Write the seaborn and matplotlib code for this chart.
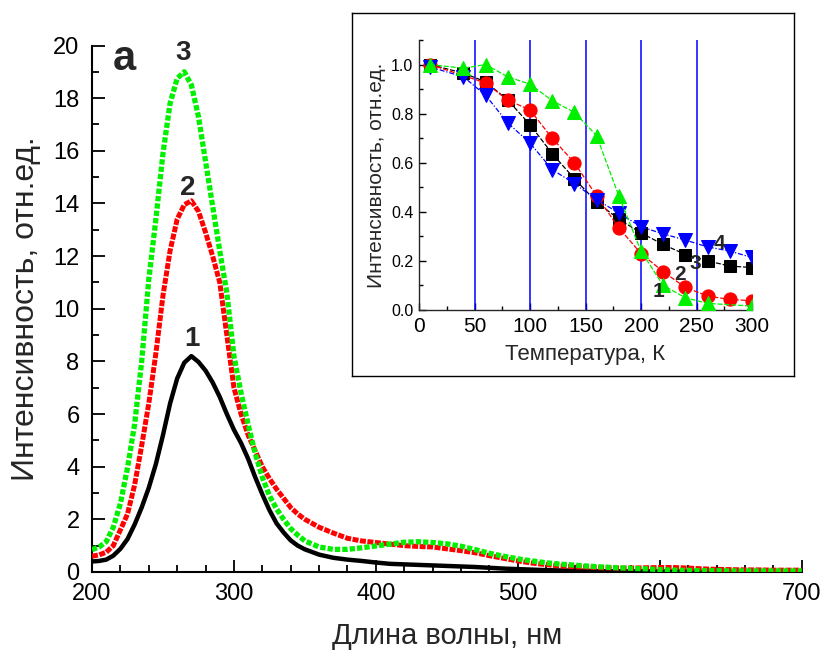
import numpy as np
import pandas as pd
import matplotlib
matplotlib.use("Agg")
import matplotlib.pyplot as plt
from matplotlib.ticker import MultipleLocator
import seaborn as sns

# ---------------- main spectra data ----------------
wavelength = [200, 205, 210, 215, 220, 225, 230, 235, 240, 245, 250, 255, 260, 265,
              270, 275, 280, 285, 290, 295, 300, 305, 310, 315, 320, 325, 330, 335,
              340, 345, 350, 360, 370, 380, 390, 400, 410, 420, 430, 440, 450, 460,
              470, 480, 490, 500, 510, 520, 530, 540, 550, 560, 570, 580, 590, 600,
              610, 620, 630, 640, 650, 660, 670, 680, 690, 700]
curve1 = [0.40, 0.42, 0.47, 0.62, 0.88, 1.25, 1.80, 2.45, 3.20, 4.10, 5.20, 6.40, 7.35, 7.95,
          8.20, 7.98, 7.65, 7.20, 6.65, 6.00, 5.40, 4.90, 4.30, 3.60, 2.95, 2.35, 1.85, 1.50,
          1.20, 1.00, 0.86, 0.66, 0.54, 0.47, 0.42, 0.36, 0.31, 0.29, 0.27, 0.25, 0.23, 0.21,
          0.19, 0.16, 0.13, 0.11, 0.09, 0.07, 0.06, 0.05, 0.04, 0.03, 0.03, 0.02, 0.03, 0.02,
          0.02, 0.02, 0.01, 0.01, 0.01, 0.01, 0.01, 0.00, 0.00, 0.00]
curve2 = [0.60, 0.65, 0.75, 1.00, 1.60, 2.20, 3.30, 4.80, 6.40, 8.30, 10.5, 12.2, 13.4, 13.95,
          14.1, 13.7, 12.9, 12.0, 11.0, 9.00, 7.00, 6.00, 5.20, 4.60, 4.00, 3.55, 3.15, 2.80,
          2.45, 2.20, 2.00, 1.70, 1.48, 1.28, 1.18, 1.12, 1.06, 1.00, 0.97, 0.95, 0.88, 0.81,
          0.73, 0.62, 0.52, 0.42, 0.34, 0.28, 0.23, 0.20, 0.18, 0.16, 0.15, 0.15, 0.16, 0.17,
          0.17, 0.15, 0.12, 0.10, 0.09, 0.08, 0.08, 0.07, 0.07, 0.07]
curve3 = [0.85, 0.95, 1.15, 1.70, 2.60, 3.95, 5.60, 8.00, 11.1, 13.4, 15.9, 17.8, 18.75, 19.0,
          18.5, 17.3, 15.6, 13.9, 12.2, 10.6, 8.20, 6.80, 5.60, 4.50, 3.60, 2.90, 2.40, 2.00,
          1.65, 1.40, 1.18, 0.95, 0.86, 0.86, 0.92, 0.99, 1.06, 1.13, 1.15, 1.12, 1.07, 0.98,
          0.85, 0.71, 0.60, 0.50, 0.42, 0.35, 0.30, 0.26, 0.22, 0.19, 0.16, 0.14, 0.12, 0.09,
          0.07, 0.06, 0.05, 0.05, 0.04, 0.04, 0.04, 0.04, 0.04, 0.04]

# ---------------- inset data ----------------
t1 = [10, 40, 60, 80, 100, 120, 140, 160, 180, 200, 220, 240, 260, 300]
i1 = [1.00, 0.985, 1.00, 0.95, 0.92, 0.853, 0.805, 0.71, 0.465, 0.24, 0.10, 0.05, 0.027, 0.016]
t2 = [10, 60, 80, 100, 120, 140, 160, 180, 200, 220, 240, 260, 280, 300]
i2 = [1.00, 0.925, 0.855, 0.815, 0.70, 0.60, 0.465, 0.335, 0.23, 0.156, 0.092, 0.057, 0.043, 0.038]
t3 = [10, 40, 60, 80, 100, 120, 140, 160, 180, 200, 220, 240, 260, 280, 300]
i3 = [1.00, 0.965, 0.93, 0.855, 0.755, 0.637, 0.535, 0.44, 0.37, 0.314, 0.267, 0.226, 0.20, 0.179, 0.173]
t4 = [10, 40, 60, 80, 100, 120, 140, 160, 180, 200, 220, 240, 260, 280, 300]
i4 = [0.99, 0.95, 0.875, 0.762, 0.68, 0.572, 0.515, 0.45, 0.395, 0.339, 0.31, 0.285, 0.257, 0.24, 0.214]
vlines_T = [50, 100, 150, 200, 250]

GREEN = '#00f000'

sns.set_style("ticks")
plt.rcParams['font.family'] = ['Liberation Sans', 'DejaVu Sans']

fig = plt.figure(figsize=(8.25, 6.57), dpi=100)
ax = fig.add_axes([92/825, 1-572/657, (801.7-92)/825, (572-45.5)/657])

df = pd.DataFrame({"wl": wavelength, "c1": curve1, "c2": curve2, "c3": curve3})
sns.lineplot(data=df, x="wl", y="c1", ax=ax, color="black", lw=3.2, zorder=3)
sns.lineplot(data=df, x="wl", y="c2", ax=ax, color="#ff0000", lw=3.6, zorder=4)
sns.lineplot(data=df, x="wl", y="c3", ax=ax, color=GREEN, lw=3.8, zorder=5)
lines = ax.get_lines()
lines[1].set_dashes((1.2, 0.3))
lines[1].set_dash_capstyle("butt")
lines[2].set_dashes((1.0, 0.4))
lines[2].set_dash_capstyle("butt")

ax.set_xlim(200, 700)
ax.set_ylim(0, 20)
ax.xaxis.set_major_locator(MultipleLocator(100))
ax.xaxis.set_minor_locator(MultipleLocator(20))
ax.yaxis.set_major_locator(MultipleLocator(2))
ax.yaxis.set_minor_locator(MultipleLocator(1))
ax.tick_params(which='both', direction='in', width=1.3, colors='black', labelsize=17)
ax.tick_params(which='major', length=9)
ax.tick_params(which='minor', length=5)
ax.tick_params(axis='y', pad=9)
ax.tick_params(axis='x', pad=8)
for s in ['top', 'right']:
    ax.spines[s].set_visible(False)
for s in ['left', 'bottom']:
    ax.spines[s].set_linewidth(1.5)
    ax.spines[s].set_color('black')
ax.set_xlabel("Длина волны, нм", fontsize=21, labelpad=12)
ax.set_ylabel("Интенсивность, отн.ед.", fontsize=23, labelpad=9)

ax.text(222.5, 19.5, "a", fontsize=30, fontweight='bold', ha='center', va='center')
ax.text(264.5, 19.7, "3", fontsize=20, fontweight='bold', ha='center', va='center')
ax.text(267.8, 14.6, "2", fontsize=20, fontweight='bold', ha='center', va='center')
ax.text(270.5, 8.85, "1", fontsize=20, fontweight='bold', ha='center', va='center')

# ---------------- inset frame ----------------
frame = fig.add_axes([351.5/825, 1-375.5/657, (793.5-351.5)/825, (375.5-12.5)/657])
frame.set_xticks([])
frame.set_yticks([])
for s in frame.spines.values():
    s.set_linewidth(1.0)
    s.set_color('black')
frame.set_zorder(2)

axi = fig.add_axes([419/825, 1-310/657, (752-419)/825, (310-40)/657])
axi.set_zorder(3)
axi.set_facecolor('none')
for T in vlines_T:
    axi.axvline(T, color='#0000ff', lw=1.1, zorder=1)

dfi3 = pd.DataFrame({"T": t3, "I": i3})
dfi2 = pd.DataFrame({"T": t2, "I": i2})
dfi4 = pd.DataFrame({"T": t4, "I": i4})
dfi1 = pd.DataFrame({"T": t1, "I": i1})
ms = 9.5
sns.lineplot(data=dfi3, x="T", y="I", ax=axi, color='black', lw=0.9, ls=(0, (4, 1.5)),
             marker='s', markersize=ms - 1.5, markeredgecolor='black', zorder=3)
sns.lineplot(data=dfi2, x="T", y="I", ax=axi, color='#ff0000', lw=0.9, ls=(0, (4, 1.5)),
             marker='o', markersize=ms, markeredgecolor='#ff0000', zorder=4)
sns.lineplot(data=dfi4, x="T", y="I", ax=axi, color='#0000ff', lw=0.9, ls=(0, (4, 1.5, 1, 1.5)),
             marker='v', markersize=ms, markeredgecolor='#0000ff', zorder=5)
sns.lineplot(data=dfi1, x="T", y="I", ax=axi, color=GREEN, lw=0.9, ls=(0, (4, 1.5)),
             marker='^', markersize=ms, markeredgecolor=GREEN, zorder=6)

axi.set_xlim(0, 300)
axi.set_ylim(0, 1.1)
axi.xaxis.set_major_locator(MultipleLocator(50))
axi.xaxis.set_minor_locator(MultipleLocator(25))
axi.set_yticks([0.0, 0.2, 0.4, 0.6, 0.8, 1.0])
axi.set_yticklabels(["0.0", "0.2", "0.4", "0.6", "0.8", "1.0"])
axi.yaxis.set_minor_locator(MultipleLocator(0.1))
axi.tick_params(which='both', direction='in', width=1.0, colors='black')
axi.tick_params(axis='x', labelsize=15, pad=5)
axi.tick_params(axis='y', labelsize=11.5, pad=4)
axi.tick_params(which='major', length=5)
axi.tick_params(which='minor', length=3)
for s in ['top', 'right']:
    axi.spines[s].set_visible(False)
for s in ['left', 'bottom']:
    axi.spines[s].set_linewidth(1.0)
axi.set_xlabel("Температура, К", fontsize=16, labelpad=6)
axi.set_ylabel("Интенсивность, отн.ед.", fontsize=15, labelpad=4)

axi.text(271, 0.27, "4", fontsize=15, fontweight='bold', ha='center', va='center', zorder=8)
axi.text(249, 0.19, "3", fontsize=15, fontweight='bold', ha='center', va='center', zorder=8)
axi.text(235, 0.145, "2", fontsize=15, fontweight='bold', ha='center', va='center', zorder=8)
axi.text(216, 0.075, "1", fontsize=15, fontweight='bold', ha='center', va='center', zorder=8)

fig.savefig("out.png", dpi=100)
